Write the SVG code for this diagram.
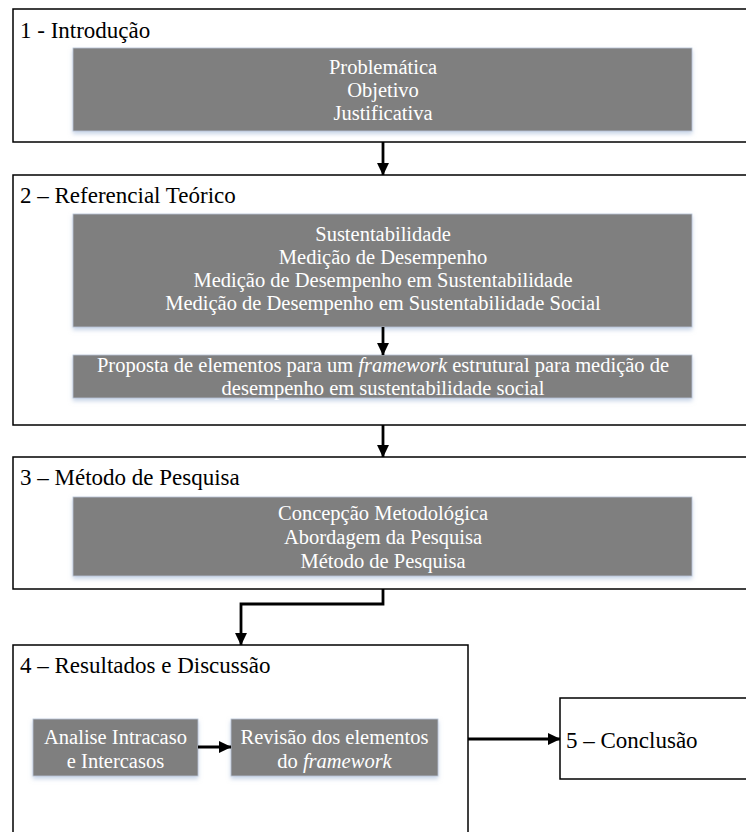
<svg xmlns="http://www.w3.org/2000/svg" width="746" height="832" viewBox="0 0 746 832">
  <style>
    .frame { fill: #ffffff; stroke: #000000; stroke-width: 1.5; }
    .box { fill: #7f7f7f; stroke: #b8c4d6; stroke-width: 0.8; filter: url(#glow); }
    text { font-family: 'Liberation Serif', 'Times New Roman', serif; }
    .title { font-size: 23px; fill: #000000; }
    .body { font-size: 20.5px; fill: #ffffff; text-anchor: middle; }
    .link { fill: none; stroke: #000000; stroke-width: 2.8; marker-end: url(#head); }
  </style>
  <defs>
    <marker id="head" markerUnits="userSpaceOnUse" viewBox="0 0 13 13" refX="12.5" refY="6.5" markerWidth="13" markerHeight="13" orient="auto">
      <path d="M0,0.3 L13,6.5 L0,12.7 Z" fill="#000000"/>
    </marker>
    <filter id="glow" x="-5%" y="-20%" width="110%" height="150%">
      <feDropShadow dx="0" dy="2.5" stdDeviation="2" flood-color="#9fb6d6" flood-opacity="0.6"/>
    </filter>
  </defs>

  <rect width="746" height="832" fill="#ffffff"/>

  <!-- Section 1 -->
  <g id="sec1">
    <rect class="frame" x="13" y="9" width="760" height="133"/>
    <text class="title" x="20" y="38">1 - Introdução</text>
    <rect class="box" x="73" y="48" width="619" height="83"/>
    <text class="body" x="383" y="74">Problemática</text>
    <text class="body" x="383" y="97">Objetivo</text>
    <text class="body" x="383" y="120">Justificativa</text>
  </g>

  <!-- Section 2 -->
  <g id="sec2">
    <rect class="frame" x="13" y="175" width="760" height="250"/>
    <text class="title" x="20" y="203">2 – Referencial Teórico</text>
    <rect class="box" x="73" y="214" width="619" height="113"/>
    <text class="body" x="383" y="241">Sustentabilidade</text>
    <text class="body" x="383" y="264">Medição de Desempenho</text>
    <text class="body" x="383" y="287">Medição de Desempenho em Sustentabilidade</text>
    <text class="body" x="383" y="310">Medição de Desempenho em Sustentabilidade Social</text>
  </g>
  <g id="proposta">
    <rect class="box" x="73" y="355" width="619" height="43"/>
    <text class="body" x="383" y="372">Proposta de elementos para um <tspan font-style="italic">framework</tspan> estrutural para medição de</text>
    <text class="body" x="383" y="395">desempenho em sustentabilidade social</text>
  </g>

  <!-- Section 3 -->
  <g id="sec3">
    <rect class="frame" x="13" y="457" width="760" height="132"/>
    <text class="title" x="20" y="485">3 – Método de Pesquisa</text>
    <rect class="box" x="73" y="497" width="619" height="79"/>
    <text class="body" x="383" y="520">Concepção Metodológica</text>
    <text class="body" x="383" y="544">Abordagem da Pesquisa</text>
    <text class="body" x="383" y="568">Método de Pesquisa</text>
  </g>

  <!-- Section 4 -->
  <g id="sec4">
    <rect class="frame" x="13" y="645" width="455" height="200"/>
    <text class="title" x="20" y="673">4 – Resultados e Discussão</text>
  </g>
  <g id="intracaso">
    <rect class="box" x="33" y="719" width="165" height="57"/>
    <text class="body" x="115.5" y="744">Analise Intracaso</text>
    <text class="body" x="115.5" y="768">e Intercasos</text>
  </g>
  <g id="revisao">
    <rect class="box" x="231" y="719" width="207" height="57"/>
    <text class="body" x="334.5" y="744">Revisão dos elementos</text>
    <text class="body" x="334.5" y="768">do <tspan font-style="italic">framework</tspan></text>
  </g>

  <!-- Section 5 -->
  <g id="sec5">
    <rect class="frame" x="560" y="698" width="220" height="81"/>
    <text class="title" x="566" y="748">5 – Conclusão</text>
  </g>

  <!-- Connectors -->
  <g id="connectors">
    <path class="link" d="M383,142 V175"/>
    <path class="link" d="M383,327 V355"/>
    <path class="link" d="M383,425 V457"/>
    <path class="link" d="M383,589 V604 H241 V645"/>
    <path class="link" d="M198,747 H231"/>
    <path class="link" d="M468,739 H560"/>
  </g>
</svg>
